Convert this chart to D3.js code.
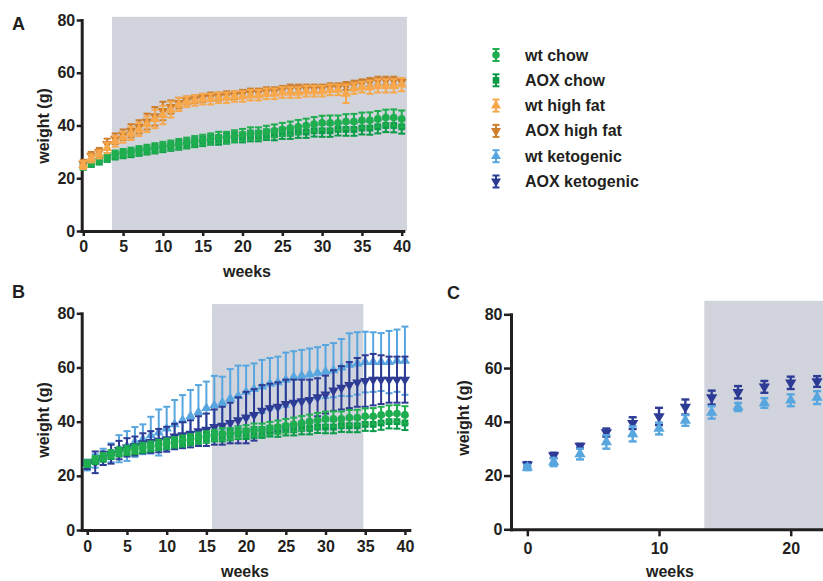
<!DOCTYPE html>
<html lang="en">
<head>
<meta charset="UTF-8">
<script src="https://d3js.org/d3.v7.min.js"></script>
<title>Body weight</title>
<style>
    body { margin: 0; background: #fff; }
    svg text { font-family: "Liberation Sans", Arial, sans-serif; font-weight: bold; fill: #231f20; }
</style>
</head>
<body>
<div id="chart"></div>
<script>

    // weekly cohort (panels A and B)
    var weeks = [0,1,2,3,4,5,6,7,8,9,10,11,12,13,14,15,16,17,18,19,20,
                 21,22,23,24,25,26,27,28,29,30,31,32,33,34,35,36,37,38,39,40];

    var wtChow    = [24.5,26,27,28,29,29.5,30,30.5,31,31.5,32,32.5,33,33.5,34,34.5,35,35.5,35.5,36,36.5,
                     37,37,37.5,38,38.5,39,39.5,40,40.5,41,41,41,41.5,41.5,42,42,42.5,43,43,42.5];
    var wtChowErr = [1.2,1.3,1.4,1.5,1.5,1.6,1.6,1.7,1.7,1.8,1.8,1.8,1.9,1.9,2,2,2,2.1,2.1,2.2,2.2,
                     2.3,2.3,2.4,2.4,2.5,2.5,2.6,2.6,2.7,2.7,2.8,2.8,2.8,2.9,2.9,3,3,3,3.1,3.2];

    var aoxChow    = [24.5,25.5,26.5,27.5,28.5,29,29.5,30,30.5,31,31.5,32,32.5,33,33.5,34,34.5,34.5,35,35.5,35.5,
                      36,36,36.5,36.5,37,37,37.5,37.5,38,38,38,38.5,38.5,38.5,39,39,39.5,40,40,39.5];
    var aoxChowErr = [1.2,1.2,1.3,1.3,1.4,1.4,1.5,1.5,1.5,1.6,1.6,1.6,1.7,1.7,1.7,1.8,1.8,1.8,1.9,1.9,1.9,
                      2,2,2,2.1,2.1,2.1,2.2,2.2,2.2,2.3,2.3,2.3,2.4,2.4,2.4,2.5,2.5,2.5,2.6,2.6];

    var wtHF    = [25,27.5,29,31.5,34,35.5,37,38.5,40.5,42.5,44,46,48,49,49.5,50,50,50.5,50.5,51,51,
                   51.5,51.5,52,52,52.5,52.5,52.5,53,53,53,53.5,53.5,52,54,54.5,54.5,55,55,55,55.5];
    var wtHFErr = [1.5,1.5,1.5,2,2,2,2.5,2.5,3,3.5,3.5,3,2.5,2,2,2,2,2,2,2,2,
                   2,2,2,2,2,2,2,2,2,2,2,2,3.5,2,2,2.5,2.5,2.5,2.5,2.5];

    var aoxHF    = [25.5,28.5,30,33,35,36.5,38,39.5,41.5,43.5,45.5,47,48.5,49.5,50,50.5,51,51,51.5,51.5,52,
                    52.5,52.5,53,53,53.5,54,54,54,54,54,54.5,54.5,55,55.5,56,56.5,57,57,57,56.5];
    var aoxHFErr = [1.5,1.5,1.5,2,2,2,2.5,2.5,3,3.5,3.5,2.5,2,1.5,1.5,1.5,1.5,1.5,1.5,1.5,1.5,
                    1.5,1.5,1.5,1.5,1.5,1.5,1.5,1.5,1.5,1.5,1.5,1.5,1.5,1.5,1.5,1.5,1.5,1.5,1.5,1.5];

    var wtKeto    = [24,25.5,27,28.5,30,31,32.5,33.5,35,36,37.5,39,40.5,42,43.5,45,46,47,48.5,49.5,51,
                     52,53,54,54.5,55.5,56.5,57,57.5,58,58.5,59,60,61,61.5,62,62,62,62,62.5,62.5];
    var wtKetoErr = [2,2.5,3,3.5,5,5.5,5.5,5.5,6.8,8.5,8,9,9.3,9.7,10,9.8,10.9,9.6,10.9,11.2,9.7,
                     9.5,9.8,9.5,9.5,10,9.5,9.5,9.5,9.5,9.8,10,10.5,11.6,11.5,11.2,11,10.7,11.5,11.5,12.6];

    var aoxKeto    = [24,25,26.5,28,29.5,30.5,31,32,32.5,33,33.5,34.5,35,35.5,36.5,37,38,38.5,39.5,40.5,41.5,
                      42.5,44,45,45.5,46.5,47,47.5,48,49,50,51.5,52.5,53.5,54.5,55,55.5,55.5,55.5,55.5,55.5];
    var aoxKetoErr = [1.5,4,2.5,3.5,3.4,3.4,3.5,3.7,4,4.3,4.6,4.7,4.8,5,5.5,6,6.5,7,7.5,8.5,9.5,
                      9.5,9.5,9,9,9,8.5,8,7.5,7,7,7.5,8,8.5,9,9.5,9.5,9,8.5,8.5,8.5];

    // second ketogenic cohort (panel C), every two weeks
    var weeksC      = [0,2,4,6,8,10,12,14,16,18,20,22];
    var wtKetoC     = [23,25,28,32.5,35.5,37.5,40.5,43.5,45.5,47,48,49];
    var wtKetoCErr  = [1,1.5,2,2.5,2.8,2.2,2,2.3,1.5,1.8,2.2,2.4];
    var aoxKetoC    = [24,27.5,31,36,39.5,42,45.5,49,51,53,54.5,55];
    var aoxKetoCErr = [1,1,0.8,1.5,2.2,3.2,2.8,2.6,2.3,2.2,2.3,2];

    var groupNames = ["wt chow", "AOX chow", "wt high fat", "AOX high fat", "wt ketogenic", "AOX ketogenic"];
    var yTicks = [0, 20, 40, 60, 80];

    var ink = "#231f20", shadeColor = "#d1d4dc";

    var look = {
        "wt chow":       {color: "#1fae4f", shape: "circle"},
        "AOX chow":      {color: "#0b9b48", shape: "square"},
        "wt high fat":   {color: "#f7a84c", shape: "up"},
        "AOX high fat":  {color: "#cd7f2e", shape: "down"},
        "wt ketogenic":  {color: "#58a6df", shape: "up"},
        "AOX ketogenic": {color: "#2d3b95", shape: "down"}
    };

    var svg = d3.select("#chart")
        .append("svg")
        .attr("width", 823)
        .attr("height", 581);

    function symbolPath(shape, size) {
        var t = shape === "circle" ? d3.symbolCircle : shape === "square" ? d3.symbolSquare : d3.symbolTriangle;
        return d3.symbol().type(t).size(size)();
    }

    function drawSeries(g, p, name, xs, vs, es) {
        var st = look[name];
        var pts = xs.map(function(w, i) { return {w: w, v: vs[i], e: es[i]}; });
        var sg = g.append("g").attr("stroke", st.color).attr("fill", st.color);

        // error bars
        sg.selectAll(".bar").data(pts).join("line")
            .attr("x1", function(d) { return p.x(d.w); })
            .attr("x2", function(d) { return p.x(d.w); })
            .attr("y1", function(d) { return p.y(d.v - d.e); })
            .attr("y2", function(d) { return p.y(d.v + d.e); })
            .attr("stroke-width", p.bw);
        [1, -1].forEach(function(sign) {
            sg.selectAll(".cap" + sign).data(pts).join("line")
                .attr("x1", function(d) { return p.x(d.w) - p.cap; })
                .attr("x2", function(d) { return p.x(d.w) + p.cap; })
                .attr("y1", function(d) { return p.y(d.v + sign * d.e); })
                .attr("y2", function(d) { return p.y(d.v + sign * d.e); })
                .attr("stroke-width", p.bw);
        });

        // markers
        sg.selectAll(".mk").data(pts).join("path")
            .attr("stroke", "none")
            .attr("d", symbolPath(st.shape, p.ms))
            .attr("transform", function(d) {
                return "translate(" + p.x(d.w) + "," + p.y(d.v) + ")" + (st.shape === "down" ? " rotate(180)" : "");
            });
    }

    function drawPanel(p, series) {
        var g = svg.append("g");

        // shaded diet period
        g.append("rect")
            .attr("x", p.x(p.shade[0]))
            .attr("y", p.y(p.shade[2]))
            .attr("width", p.x(p.shade[1]) - p.x(p.shade[0]))
            .attr("height", p.y(0) - p.y(p.shade[2]))
            .attr("fill", shadeColor);

        var xAxis = g.append("g")
            .attr("transform", "translate(0," + p.y.range()[0] + ")")
            .call(d3.axisBottom(p.x).tickValues(p.xTicks).tickSize(p.tick).tickSizeOuter(0).tickPadding(p.xPad));
        var yAxis = g.append("g")
            .attr("transform", "translate(" + p.x.range()[0] + ",0)")
            .call(d3.axisLeft(p.y).tickValues(yTicks).tickSize(p.tick).tickSizeOuter(0).tickPadding(1.5));

        [xAxis, yAxis].forEach(function(a) {
            a.select(".domain").attr("stroke", ink).attr("stroke-width", 3).attr("stroke-linecap", "square");
            a.selectAll(".tick line").attr("stroke", ink).attr("stroke-width", 2.5);
            a.selectAll(".tick text").style("font-size", "16px");
        });

        series.forEach(function(s) { drawSeries(g, p, s[0], s[1], s[2], s[3]); });

        g.append("text")
            .attr("x", p.letter[0]).attr("y", p.letter[1])
            .style("font-size", "18px")
            .text(p.name);

        g.append("text")
            .attr("x", p.xTitle[0]).attr("y", p.xTitle[1])
            .attr("text-anchor", "middle")
            .style("font-size", "16px")
            .text("weeks");

        g.append("text")
            .attr("transform", "translate(" + p.yTitle[0] + "," + p.yTitle[1] + ") rotate(-90)")
            .attr("text-anchor", "middle")
            .style("font-size", "16px")
            .text("weight (g)");
    }

    // Panel A: chow vs high fat
    drawPanel({
        name: "A", letter: [12, 30], xTitle: [247, 277], yTitle: [49, 126],
        x: d3.scaleLinear().domain([-0.2, 40.2]).range([81.7, 403.3]),
        y: d3.scaleLinear().domain([0, 80]).range([231, 20]),
        xTicks: [0, 5, 10, 15, 20, 25, 30, 35, 40],
        shade: [3.6, 40.65, 81.2],
        tick: 5, xPad: 5, bw: 2, cap: 3.5, ms: 46
    }, [
        ["AOX chow", weeks, aoxChow, aoxChowErr],
        ["wt chow", weeks, wtChow, wtChowErr],
        ["AOX high fat", weeks, aoxHF, aoxHFErr],
        ["wt high fat", weeks, wtHF, wtHFErr]
    ]);

    // Panel B: chow vs ketogenic
    drawPanel({
        name: "B", letter: [12, 298], xTitle: [245, 577], yTitle: [49, 420],
        x: d3.scaleLinear().domain([-0.7, 40.55]).range([81.7, 409.3]),
        y: d3.scaleLinear().domain([0, 80]).range([530, 313.3]),
        xTicks: [0, 5, 10, 15, 20, 25, 30, 35, 40],
        shade: [15.7, 34.76, 83.4],
        tick: 5, xPad: 6, bw: 2, cap: 3.5, ms: 46
    }, [
        ["wt ketogenic", weeks, wtKeto, wtKetoErr],
        ["AOX ketogenic", weeks, aoxKeto, aoxKetoErr],
        ["AOX chow", weeks, aoxChow, aoxChowErr],
        ["wt chow", weeks, wtChow, wtChowErr]
    ]);

    // Panel C: second ketogenic cohort (runs past the right edge)
    drawPanel({
        name: "C", letter: [447, 299], xTitle: [670, 577], yTitle: [469, 418],
        x: d3.scaleLinear().domain([-1.24, 30]).range([511, 922.4]),
        y: d3.scaleLinear().domain([0, 80]).range([529.3, 314.3]),
        xTicks: [0, 10, 20],
        shade: [13.44, 30, 85],
        tick: 7, xPad: 6, bw: 2.4, cap: 4, ms: 55
    }, [
        ["AOX ketogenic", weeksC, aoxKetoC, aoxKetoCErr],
        ["wt ketogenic", weeksC, wtKetoC, wtKetoCErr]
    ]);

    // legend
    var legend = svg.append("g").attr("transform", "translate(496,55)");
    var rows = legend.selectAll("g").data(groupNames).join("g")
        .attr("transform", function(d, i) { return "translate(0," + (i * 25.3) + ")"; });
    rows.each(function(name) {
        var r = d3.select(this), st = look[name];
        r.append("line").attr("x1", 0).attr("x2", 0).attr("y1", -6).attr("y2", 6)
            .attr("stroke", st.color).attr("stroke-width", 2);
        [-6, 6].forEach(function(cy) {
            r.append("line").attr("x1", -3.5).attr("x2", 3.5).attr("y1", cy).attr("y2", cy)
                .attr("stroke", st.color).attr("stroke-width", 2);
        });
        r.append("path").attr("d", symbolPath(st.shape, 44)).attr("fill", st.color)
            .attr("transform", st.shape === "down" ? "rotate(180)" : null);
        r.append("text").attr("x", 29).attr("y", 5.5).style("font-size", "16px").text(name);
    });

</script>
</body>
</html>
